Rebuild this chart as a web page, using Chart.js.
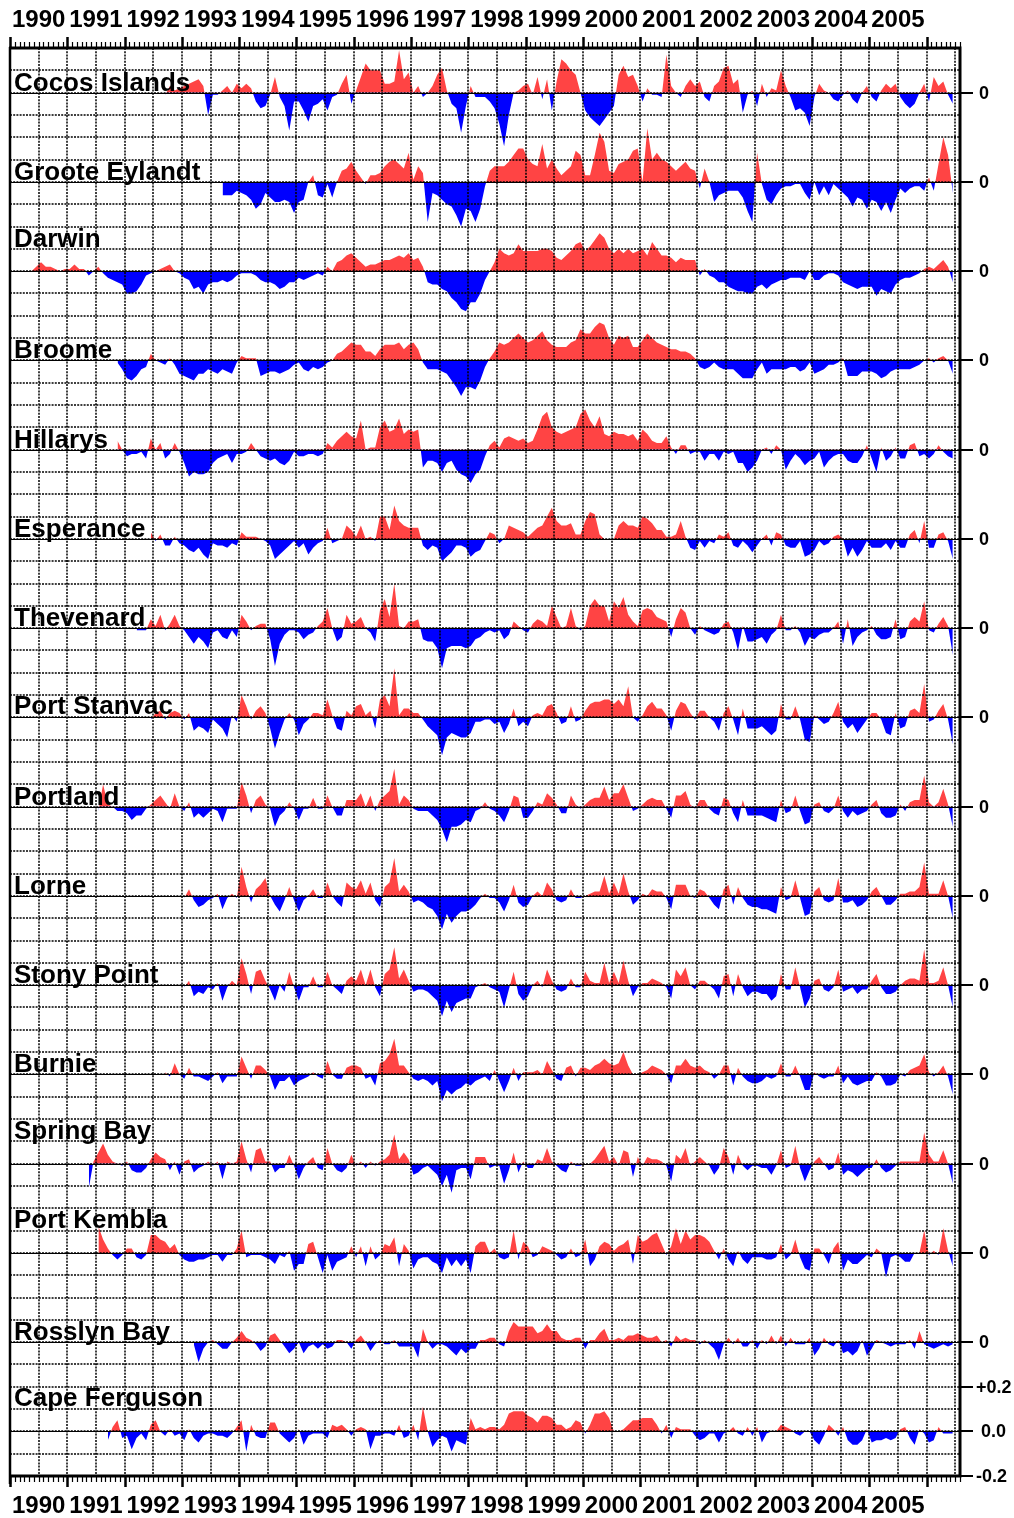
<!DOCTYPE html>
<html lang="en">
<head>
<meta charset="utf-8">
<script src="https://cdn.jsdelivr.net/npm/chart.js@4.4.1/dist/chart.umd.min.js"></script>
<style>
  html, body { margin: 0; padding: 0; background: #ffffff; }
  canvas { display: block; }
</style>
</head>
<body>
<canvas id="chart" width="1014" height="1518"></canvas>
<script>
// Monthly sea-level anomalies in centimetres, one value per month.
// firstMonth[i] is the month index of the first value of station i,
// counted from January 1990 (0 = Jan 1990). Every series runs to June 2006.
const yearLabels = ['1990','1991','1992','1993','1994','1995','1996','1997',
                    '1998','1999','2000','2001','2002','2003','2004','2005'];

const stationNames = ['Cocos Islands','Groote Eylandt','Darwin','Broome','Hillarys',
  'Esperance','Thevenard','Port Stanvac','Portland','Lorne','Stony Point','Burnie',
  'Spring Bay','Port Kembla','Rosslyn Bay','Cape Ferguson'];

const firstMonth = [32, 44, 4, 22, 22, 29, 26, 29, 18, 36, 36, 32, 16, 18, 38, 20];

const cocosIslands = [
  -1, 3, 1, 2,
  3, 4, 5, 6, 3, -10, -1, -1, 1, 3, 0, 4,
  2, 4, 2, -4, -7, -6, -1, 7, -2, -6, -17, -4,
  -4, -8, -13, -6, -5, -3, -8, -2, -1, 4, 8, -5,
  1, 7, 13, 10, 10, 10, 4, 4, 5, 19, 6, 9,
  0, 3, -2, 0, 3, 8, 11, 1, -5, -7, -18, -6,
  3, -2, -2, -2, -4, -7, -14, -24, -10, 0, 1, 3,
  4, -1, 7, -3, 6, -8, 5, 15, 13, 10, 8, 0,
  -8, -11, -13, -15, -12, -9, -6, 8, 12, 7, 8, 3,
  -4, 2, -1, -1, -2, 17, 3, 0, -2, 3, 6, 3,
  5, -2, -4, 3, 5, 11, 12, 4, 6, -9, -1, 1,
  -6, 4, -2, 2, 1, 10, 3, -2, -8, -7, -9, -15,
  -2, 4, 1, 0, -3, -4, -1, 1, -3, -5, 0, 3,
  -2, -4, 1, 4, 2, 4, -2, -5, -7, -5, 0, 4,
  -4, 7, 3, 5, -1, -5];

const grooteEylandt = [
  -6, -6, -6, -4,
  -5, -6, -8, -12, -10, -5, -7, -9, -9, -8, -9, -14,
  -9, -8, 0, 3, -6, -7, -1, -7, 0, 5, 6, 9,
  5, 2, -1, 3, 3, 4, 7, 9, 10, 8, 6, 13,
  1, 7, 4, -18, -5, -6, -8, -10, -11, -15, -20, -12,
  -13, -18, -12, -2, 5, 7, 7, 7, 9, 12, 15, 15,
  10, 8, 7, 17, 6, 10, 6, 3, 5, 7, 14, 12,
  3, 3, 12, 22, 18, 5, 4, 8, 9, 10, 14, 15,
  0, 24, 10, 13, 10, 9, 7, 5, 7, 9, 6, 5,
  -3, 6, 0, -9, -6, -5, -4, -4, -4, -7, -13, -18,
  13, -1, -8, -10, -6, -3, -2, -2, -1, -1, -5, -8,
  0, -6, -2, -6, -1, -3, -5, -7, -11, -7, -8, -12,
  -8, -9, -13, -9, -14, -8, -3, -5, -3, -2, -2, -4,
  2, -4, 8, 20, 12, -5];

const darwin = [
  0, 2, 4, 2, 2, 1, 0, 1,
  1, 3, 1, 1, -2, 0, 2, -1, -3, -4, -5, -6,
  -10, -10, -9, -6, -2, -1, 0, 1, 2, 3, 0, -1,
  -3, -4, -8, -7, -10, -6, -5, -5, -4, -5, -4, -2,
  -1, -1, -1, -2, -4, -5, -5, -6, -8, -7, -5, -5,
  -3, -4, -3, -2, -1, -2, 2, 0, 4, 5, 7, 8,
  6, 4, 2, 3, 3, 4, 5, 5, 6, 7, 6, 8,
  5, 6, 2, -5, -6, -6, -8, -9, -12, -14, -17, -18,
  -14, -14, -10, -4, 0, 4, 10, 8, 7, 8, 12, 9,
  9, 9, 9, 10, 10, 9, 6, 5, 7, 9, 12, 13,
  9, 11, 14, 17, 15, 10, 8, 10, 8, 10, 8, 9,
  10, 7, 13, 10, 7, 7, 6, 4, 6, 5, 5, 5,
  -2, 1, -2, -3, -5, -5, -7, -8, -9, -9, -10, -10,
  -7, -6, -8, -6, -5, -4, -4, -3, -3, -3, -4, 0,
  -4, -4, -2, -1, -1, -2, -5, -6, -7, -8, -7, -7,
  -7, -11, -8, -9, -10, -6, -4, -3, -3, -2, -1, 1,
  2, 1, 3, 5, 2, -5];

const broome = [
  -1, -4,
  -8, -9, -7, -4, -3, 3, 0, -1, -2, 1, -2, -6,
  -7, -8, -9, -6, -6, -4, -5, -6, -4, -5, -6, -1,
  2, 1, 1, 1, -7, -6, -5, -5, -6, -5, -4, -2,
  -1, -4, -5, -3, -4, -3, -1, 0, 3, 4, 6, 8,
  7, 7, 4, 4, 2, 5, 7, 7, 7, 8, 5, 7,
  8, 5, -1, -4, -4, -4, -5, -6, -9, -12, -16, -12,
  -12, -13, -9, -3, 1, 4, 8, 7, 8, 10, 12, 10,
  8, 9, 11, 13, 9, 7, 6, 6, 6, 8, 9, 14,
  12, 12, 15, 17, 16, 10, 7, 11, 10, 11, 6, 6,
  9, 12, 10, 8, 7, 6, 5, 5, 4, 4, 3, 1,
  -3, -4, -3, -1, -3, -4, -4, -4, -6, -8, -8, -8,
  -4, -1, -6, -4, -4, -4, -4, -3, -3, -5, -4, -1,
  -6, -5, -4, -2, -2, -1, 1, -7, -7, -7, -5, -5,
  -5, -6, -8, -7, -5, -4, -4, -4, -4, -3, -2, 0,
  1, -1, 1, 2, 0, -6];

const hillarys = [
  4, 0,
  -3, -2, -2, -1, -4, 5, 0, 3, -4, -2, 3, -1,
  -6, -12, -10, -11, -11, -10, -6, -4, -3, -2, -6, -2,
  -2, -1, 3, 0, -3, -4, -5, -4, -6, -7, -5, -1,
  -3, -3, -2, -2, -3, -2, 3, 1, 4, 6, 8, 6,
  5, 13, 0, 1, 1, 10, 13, 8, 9, 14, 7, 9,
  8, 9, -8, -5, -5, -6, -10, -6, -5, -9, -11, -12,
  -15, -11, -9, -3, 2, 4, 1, 5, 6, 5, 4, 5,
  3, 4, 9, 15, 17, 10, 8, 7, 8, 9, 10, 16,
  18, 13, 10, 15, 7, 6, 8, 7, 7, 6, 7, 4,
  9, 7, 4, 3, 3, 6, 1, -2, 2, 2, -2, -1,
  -1, -5, -2, -2, -5, -1, -2, -1, -6, -6, -10, -8,
  -5, 0, 1, -2, 2, 0, -9, -5, -2, -4, -7, -5,
  -4, -1, -8, -5, -3, -2, -2, -5, -6, -6, -3, 2,
  -4, -10, 1, -5, -3, 1, -4, -4, 2, 3, -3, -2,
  -4, -2, 2, -1, -3, -4];

const esperance = [
  3, -1, 2, -3, -3, 1, -2,
  -3, -5, -6, -4, -7, -9, -2, -3, -3, -4, -2, -3,
  3, 1, 1, 1, 0, -1, -3, -9, -7, -5, -3, -1,
  -4, -2, -7, -4, -2, -1, 5, -2, -1, 0, 6, 4,
  1, 6, 0, 1, -1, 10, 10, 4, 15, 8, 6, 5,
  5, 5, -3, -5, -3, -4, -10, -8, -6, -3, -3, -4,
  -8, -6, -5, -1, 3, 2, -2, 0, 6, 5, 4, 3,
  1, 3, 5, 6, 10, 14, 8, 6, 6, 7, 2, 2,
  8, 12, 11, 2, 0, 0, 0, 6, 8, 6, 6, 5,
  10, 9, 7, 4, 4, 1, 1, 2, 8, 1, -4, -5,
  -1, -4, -1, -2, 2, 1, 3, -3, -4, -1, -3, -6,
  -3, 0, 2, -3, 3, 2, -3, -4, -4, -1, -8, -7,
  -5, -1, -3, -2, 1, 2, 0, -8, -4, -8, -5, -1,
  -4, -4, -4, -2, -5, -1, -4, -4, 2, 4, -2, 8,
  -4, -4, 2, 3, -1, -9];

const thevenard = [
  -1, -1, -1, 4, 1, 6, -1, 2, 6, 1,
  -1, -4, -7, -4, -6, -9, -2, -1, -4, -5, -1, -4,
  6, 3, -1, 1, 2, 2, -5, -17, -7, -3, -1, -1,
  -2, -5, -3, -2, 1, 3, 9, 0, -6, -4, 6, 2,
  3, 5, 0, -2, -6, 8, 13, 5, 20, 1, 0, 3,
  3, 4, -5, -6, -6, -9, -18, -9, -8, -8, -8, -9,
  -8, -5, -4, -2, -1, -2, -1, -5, -3, 3, 1, -1,
  -2, 2, 4, 3, 1, 10, 5, 0, 1, 9, 1, -1,
  1, 10, 13, 10, 10, 3, 12, 9, 14, 6, 3, 1,
  8, 9, 8, 5, 4, 3, -4, 4, 9, 7, 0, -3,
  1, -1, -2, -3, -2, 2, 3, -2, -10, 1, -6, -6,
  -5, -4, -7, -3, -1, 6, -1, -1, 1, -2, -8, -4,
  -5, -3, -2, -2, 0, 3, -7, 4, -8, -4, -2, -1,
  1, -3, -5, -5, -4, 4, -5, -4, 3, 5, 3, 12,
  -1, -2, 2, 5, 1, -12];

const portStanvac = [
  -1, 2, 3, -1, 2, 3, 2,
  -1, 2, -6, -4, -5, -7, -1, -3, -5, -9, 1, -2,
  10, 5, -1, 3, 5, 2, -5, -14, -7, -1, 2, -1,
  -8, -3, -1, 2, 2, 1, 8, 1, -5, -6, 3, 1,
  5, 6, 1, 3, -5, 8, 10, 5, 22, 1, 4, 4,
  2, 2, -1, -4, -6, -8, -17, -9, -7, -8, -9, -9,
  -7, -2, -2, -1, -1, -3, -2, -7, -3, 4, -4, -2,
  -4, 1, 2, 1, 5, 6, 2, -3, -2, 5, -2, -1,
  3, 6, 7, 7, 8, 8, 6, 8, 5, 14, 0, -2,
  1, 5, 7, 4, 4, 1, -6, 3, 7, 6, 2, -1,
  3, 3, 0, -2, -6, 2, 5, -1, -8, 4, -5, -5,
  -5, -4, -6, -8, -6, 6, -1, -1, 5, -1, -10, -11,
  1, -1, -3, -2, 2, 7, -2, -5, -3, -7, -4, -1,
  2, 2, -1, -7, -8, 2, -5, -4, 3, 4, 2, 15,
  -2, -1, 3, 6, -1, -12];

const portland = [
  -2, 10, 1, 0, -2, -2,
  -3, -6, -4, -4, -1, 1, 3, 5, 2, -1, 6, 0,
  -2, 2, -5, -3, -5, -3, -1, -2, -7, -1, -1, -1,
  11, 5, -3, 3, 5, 1, -1, -9, -4, -2, 2, -1,
  -6, -1, -1, 4, -1, -1, 5, 0, -4, -4, 3, 3,
  3, 6, 0, 5, -2, 3, 5, 7, 17, 1, 5, 3,
  -1, -2, -2, -2, -4, -6, -10, -16, -9, -9, -8, -6,
  -7, -2, -1, 2, -1, -2, -4, -7, -2, 5, 4, -5,
  -5, -2, 2, 1, 6, 4, 1, -3, -3, 5, 1, -1,
  1, 3, 4, 4, 9, 3, 6, 6, 10, 4, -2, -1,
  1, 3, 4, 3, 3, -1, -5, 5, 5, 7, 1, -1,
  3, 3, -1, -3, -4, 4, 3, -3, -7, 3, -4, -4,
  -4, -4, -5, -6, -7, 3, -3, -2, 5, -2, -8, -7,
  1, 2, -2, -3, -1, 5, -2, -5, -2, -4, -3, -2,
  1, 3, -3, -5, -5, -4, 1, -2, 2, 3, 3, 14,
  2, 0, 2, 8, 1, -9];

const lorne = [
  -1, 3, -2, -5, -4, -2, -1, 1, -6, -1, 1, -1,
  13, 4, -3, 3, 5, 8, 0, -4, -7, -2, 4, -2,
  -7, -2, 0, 3, -1, -1, 6, 0, -3, -5, 6, 4,
  3, 7, 1, 6, -2, -5, 4, 6, 17, 2, 5, 2,
  -3, -2, -3, -5, -6, -9, -15, -8, -12, -9, -7, -7,
  -6, -4, -1, 1, -1, -1, -3, -7, -2, 5, -3, -5,
  -4, 0, 2, 0, 6, 3, -2, -3, -2, 3, -1, -1,
  0, 1, 2, 2, 9, 1, 6, 1, 10, 2, -4, -2,
  1, 0, 3, 2, 2, -1, -6, 5, 5, 5, 0, -1,
  3, 2, -1, -4, -6, 3, 5, -4, 4, -1, -4, -5,
  -5, -6, -6, -7, -8, 4, -2, -1, 7, -1, -9, -8,
  2, 4, -2, -3, -2, 8, -3, -3, -2, -5, -4, -2,
  2, 4, 0, -4, -4, -2, 1, 1, 2, 2, 4, 15,
  1, 1, 1, 7, 0, -10];

const stonyPoint = [
  -1, 2, -5, -3, -4, -1, -2, 1, -7, -1, 2, 0,
  12, 5, -4, 6, 7, 2, -2, -7, 0, -3, 6, -1,
  -7, -1, -1, 4, -1, -1, 6, 0, -2, -4, 2, 4,
  2, 7, 0, 7, -1, -5, 5, 7, 17, 3, 7, 2,
  -3, -2, -2, -3, -5, -7, -14, -7, -12, -8, -7, -6,
  -6, -1, 0, 1, -1, -2, -3, -10, -2, 6, -4, -7,
  -5, 0, 2, -1, 7, 2, -2, -3, -2, 3, -1, -1,
  6, 2, 1, 1, 10, 1, 6, 1, 11, 2, -5, -1,
  1, 1, 3, 2, 1, -1, -6, 7, 4, 8, 0, -2,
  2, 2, 0, -2, -6, 4, 5, -5, 5, -1, -5, -3,
  -3, -4, -4, -7, -5, 5, -2, -2, 8, -1, -10, -6,
  2, 3, -2, -3, -1, 7, -3, -2, -1, -4, -2, -2,
  2, 5, -1, -4, -4, -3, 0, 2, 3, 3, 2, 16,
  1, 1, 2, 8, 0, -10];

const burnie = [
  1, -1, 5, 0,
  -2, 3, -1, -1, -2, -3, -1, 1, -4, -1, -1, -1,
  8, 3, -2, 4, 4, 2, -1, -7, -3, -3, -1, -5,
  -3, -2, -1, 1, -1, -2, 6, 0, -2, -2, 3, 4,
  4, 3, -2, -1, -5, 5, 6, 9, 16, 4, 4, 1,
  -2, -3, -2, -3, -5, -3, -12, -7, -9, -7, -6, -4,
  -5, -3, -2, -1, -3, 2, -3, -8, -3, 3, -3, 1,
  1, 1, 2, 0, 6, 2, -2, -3, 3, 4, -1, 3,
  3, 2, 4, 5, 7, 5, 4, 5, 10, 4, 0, 0,
  1, 2, 4, 3, 2, 0, -4, 4, 4, 7, 4, 3,
  4, 2, 1, -2, 0, 4, 4, -5, 3, -1, -3, -4,
  -4, -3, -1, -2, -1, 5, -1, -1, 4, -1, -7, -7,
  1, -1, -2, -1, -1, 4, -4, -1, -4, -5, -4, -3,
  -3, 1, -1, -5, -5, -4, 0, -1, 2, 3, 4, 9,
  1, -1, 1, 4, -1, -9];

const springBay = [
  -11, 1, 5, 9, 4, 1, 0, -1,
  1, -3, -4, -4, -2, 2, 5, 3, 2, -3, 1, -5,
  1, 2, -4, -2, -1, 1, -1, 1, -7, 1, 0, 1,
  10, 2, -4, 6, 7, 1, 1, -4, -2, -2, 4, -1,
  -7, -2, 1, 3, -2, -3, 7, 0, -3, -4, -2, 4,
  -1, 1, -2, 1, -1, 1, 2, 4, 13, 2, 5, 2,
  -5, -4, -2, -1, -3, -5, -10, -5, -13, -3, -2, -2,
  -7, 3, 3, 3, -2, -1, -1, -9, -3, 5, -4, 1,
  -2, -2, 2, 1, 7, 1, -1, -3, -4, 1, -1, -1,
  0, 0, 2, 5, 8, 1, 3, -1, 6, 5, -6, 3,
  -1, 3, 2, 2, 1, -1, -8, 4, 2, 7, -1, 1,
  3, 1, -1, -5, -2, 7, 3, -5, 4, -1, -3, -1,
  -1, -2, -2, -5, -1, 6, -2, -1, 8, -2, -8, -3,
  1, 3, 0, -3, -2, 5, -5, -3, -4, -6, -4, -2,
  -2, 2, -2, -4, -3, -1, 1, 1, 1, 1, 1, 14,
  4, 1, 1, 6, 0, -9];

const portKembla = [
  12, 6, 2, -1, -3, -1,
  2, 2, -2, -3, -1, 8, 8, 6, 5, 2, 4, -1,
  -3, -4, -4, -3, -3, -2, -1, -1, -4, -1, -1, 2,
  10, -2, -1, -1, -1, -2, -3, -5, -1, -2, 1, -8,
  -5, -5, 4, 5, -2, -9, -1, -8, -4, -3, -2, 3,
  -2, 3, -6, 3, -3, -1, 4, 3, 7, -6, 4, 1,
  -7, -3, -2, -2, -4, -5, -9, -2, -6, -3, -6, -3,
  -9, 3, 5, 5, 0, 2, -2, -3, -2, 10, -3, 5,
  3, -2, -1, 3, 2, 1, -1, -3, -2, 2, -2, -1,
  6, -6, -3, 3, 5, 4, 1, 3, 4, 6, -5, 8,
  5, 6, 8, 9, 4, -1, 3, 11, 4, 10, 6, 8,
  8, 7, 5, 1, -3, 2, -3, -6, 1, -3, -5, -2,
  -2, -2, -3, -3, -2, 4, -3, -1, 6, -2, -7, -8,
  2, 2, -1, -5, 2, 5, -8, -3, -5, -5, -3, -1,
  -2, 2, 0, -11, -2, -1, -2, -4, -4, 0, 0, 10,
  -1, 1, -1, 11, 1, -6];

const rosslynBay = [
  -1, -9, -3, 0, 1, -1, -3, -3, 0, 2,
  5, 2, 1, -1, -4, -2, 3, 4, 1, -2, -5, -3,
  0, -5, -2, -1, -3, -1, -3, -2, 1, 1, 0, -3,
  1, 3, 0, -4, -1, 1, -1, -1, 1, -2, -2, -2,
  -2, -7, 6, 0, -3, -1, -1, -2, -4, -6, -3, -5,
  -3, -3, 1, 1, 2, 2, -1, -2, 5, 9, 7, 7,
  7, 7, 4, 5, 8, 5, 5, 2, 1, 1, 2, 2,
  -3, 1, 1, 4, 6, 1, 1, 2, 1, 3, 3, 4,
  3, 2, 2, 3, 0, 1, -2, 3, 1, 2, 1, 1,
  -1, 1, -1, -3, -8, -1, 2, -1, 2, -2, -2, 1,
  -3, 1, -1, 3, -1, 3, -2, 2, -1, -1, -1, 2,
  -6, -3, 2, -1, -2, 1, -5, -4, -6, -4, 1, -6,
  -3, 1, 0, -1, -2, -1, -1, -1, 1, -3, 5, -1,
  -2, -3, -2, -1, -2, -1];

const capeFerguson = [
  -4, 2, 5, -3,
  -2, -8, -3, -1, -4, 3, 5, 0, -2, 1, -2, -1,
  -4, 1, -3, -5, -2, -1, -1, -2, -2, -3, -1, 2,
  5, -9, 3, -2, -3, -3, 4, 4, -1, -3, -5, -3,
  1, -6, -2, -1, -1, -1, -3, 3, 2, 3, 1, -2,
  1, 2, 1, -8, -2, -2, -1, -1, -2, 3, -3, -2,
  3, -4, 11, 0, -7, -4, -2, -3, -9, -4, -5, -6,
  6, 1, 2, 1, 2, 2, 1, 3, 8, 9, 9, 9,
  7, 6, 4, 7, 7, 6, 3, 3, 1, 2, 5, 4,
  -1, 3, 8, 8, 9, 6, 0, 0, 1, 3, 5, 5,
  6, 6, 6, 3, -1, 3, -3, 2, 1, 1, 1, -2,
  -4, -3, -1, -1, -5, -1, 0, 2, -1, -2, 2, -2,
  2, -5, -1, 0, 0, 3, 2, 1, -1, -2, 0, 0,
  -4, -6, -2, 3, 1, -2, 2, -4, -6, -6, -4, 1,
  -5, -4, -4, -3, -4, -3, 1, 2, -3, -6, 1, -1,
  -5, -4, 2, -1, -1, -1];

const stationSeries = [cocosIslands, grooteEylandt, darwin, broome, hillarys,
  esperance, thevenard, portStanvac, portland, lorne, stonyPoint, burnie,
  springBay, portKembla, rosslynBay, capeFerguson];

// ---- layout & styling -------------------------------------------------------
const START_YEAR = 1990;
const X_MAX = 2006 + 7 / 12;          // right edge of the time axis
const BAND = 0.4;                      // metres between neighbouring zero lines
const Y_MAX = 0.2;
const Y_MIN = -(stationNames.length - 1) * BAND - 0.2;
const RISE = 'rgb(255,68,68)';
const FALL = 'rgb(0,0,255)';
const FONT = '"Liberation Sans", Arial, Helvetica, sans-serif';
// distance (px) of each station name's baseline above its zero line
const nameLift = [2, 2, 24, 2, 2, 2, 2, 3, 2, 2, 2, 2, 25, 25, 2, 25];

const datasets = stationSeries.map((values, i) => {
  const base = -BAND * i;
  return {
    label: stationNames[i],
    data: values.map((cm, j) => ({
      x: START_YEAR + (firstMonth[i] + j + 0.5) / 12,
      y: base + cm / 100
    })),
    fill: { target: { value: base }, above: RISE, below: FALL },
    borderWidth: 0,
    borderColor: 'rgba(0,0,0,0)',
    pointRadius: 0,
    tension: 0
  };
});

const framePlugin = {
  id: 'frame',
  beforeDraw(chart) {
    const c = chart.ctx;
    c.save();
    c.fillStyle = '#ffffff';
    c.fillRect(0, 0, chart.width, chart.height);
    c.restore();
  },
  afterDatasetsDraw(chart) {
    const { ctx, chartArea: a, scales: { x, y } } = chart;
    ctx.save();

    // dotted grid: half-year verticals, 0.1 m horizontals
    ctx.strokeStyle = '#000';
    ctx.lineWidth = 1.5;
    ctx.setLineDash([2, 1.2]);
    ctx.beginPath();
    for (let t = START_YEAR + 0.5; t < X_MAX - 0.01; t += 0.5) {
      const px = Math.round(x.getPixelForValue(t));
      ctx.moveTo(px, a.top);
      ctx.lineTo(px, a.bottom);
    }
    const nLines = Math.round((Y_MAX - Y_MIN) * 10);
    for (let i = 1; i < nLines; i++) {
      const py = Math.round(y.getPixelForValue(Y_MAX - i * 0.1));
      ctx.moveTo(a.left, py);
      ctx.lineTo(a.right, py);
    }
    ctx.stroke();
    ctx.setLineDash([]);

    // zero line of every station
    ctx.lineWidth = 1;
    ctx.beginPath();
    stationNames.forEach((_, i) => {
      const py = Math.round(y.getPixelForValue(-BAND * i)) + 0.5;
      ctx.moveTo(a.left, py);
      ctx.lineTo(a.right, py);
    });
    ctx.stroke();

    // frame
    ctx.lineWidth = 3;
    ctx.beginPath();
    ctx.moveTo(a.left - 1, a.top); ctx.lineTo(a.right + 1.5, a.top);
    ctx.moveTo(a.left - 1, a.bottom); ctx.lineTo(a.right + 1.5, a.bottom);
    ctx.moveTo(a.right, a.top); ctx.lineTo(a.right, a.bottom);
    ctx.stroke();
    ctx.lineWidth = 2.5;
    ctx.beginPath();
    ctx.moveTo(a.left, a.top - 1); ctx.lineTo(a.left, a.bottom + 8);
    ctx.stroke();

    // monthly minor ticks and yearly major ticks, top and bottom
    for (let m = 0; START_YEAR + m / 12 <= X_MAX + 1e-6; m++) {
      const px = Math.round(x.getPixelForValue(START_YEAR + m / 12)) + 0.5;
      const major = m % 12 === 0;
      const len = major ? 11 : 6;
      ctx.lineWidth = major ? 2.5 : 1.2;
      ctx.beginPath();
      ctx.moveTo(px, a.top - 1); ctx.lineTo(px, a.top - len);
      ctx.moveTo(px, a.bottom + 1); ctx.lineTo(px, a.bottom + len);
      ctx.stroke();
    }

    // year labels centred on each year
    ctx.fillStyle = '#000';
    ctx.font = 'bold 24px ' + FONT;
    ctx.textAlign = 'center';
    ctx.textBaseline = 'alphabetic';
    yearLabels.forEach((lab, i) => {
      const px = x.getPixelForValue(START_YEAR + i + 0.5);
      ctx.fillText(lab, px, 27);
      ctx.fillText(lab, px, 1513);
    });

    // right-hand scale: a zero mark per station, metres on the last one
    ctx.font = 'bold 18px ' + FONT;
    ctx.textAlign = 'left';
    ctx.textBaseline = 'middle';
    ctx.lineWidth = 2;
    const marks = stationNames.map((_, i) => ({ v: -BAND * i, t: '0' }));
    const lastBase = -BAND * (stationNames.length - 1);
    marks[marks.length - 1] = { v: lastBase, t: '0.0' };
    marks.push({ v: lastBase + 0.2, t: '+0.2' }, { v: lastBase - 0.2, t: '-0.2' });
    marks.forEach(mk => {
      const py = Math.round(y.getPixelForValue(mk.v));
      ctx.beginPath();
      ctx.moveTo(a.right, py); ctx.lineTo(a.right + 13, py);
      ctx.stroke();
      const tx = mk.t === '0' ? 979 : (mk.t === '0.0' ? 981 : 976);
      ctx.fillText(mk.t, tx, py + 1);
    });

    // station names
    ctx.font = 'bold 26px ' + FONT;
    ctx.textBaseline = 'alphabetic';
    stationNames.forEach((name, i) => {
      const py = y.getPixelForValue(-BAND * i) - nameLift[i];
      ctx.fillText(name, 14, py);
    });

    ctx.restore();
  }
};

new Chart(document.getElementById('chart'), {
  type: 'line',
  data: { datasets },
  options: {
    responsive: false,
    animation: false,
    devicePixelRatio: 1,
    layout: { padding: { left: 10, top: 48, right: 54, bottom: 42 } },
    plugins: { legend: { display: false }, tooltip: { enabled: false } },
    scales: {
      x: { type: 'linear', min: START_YEAR, max: X_MAX, display: false },
      y: { type: 'linear', min: Y_MIN, max: Y_MAX, display: false }
    }
  },
  plugins: [framePlugin]
});
</script>
</body>
</html>
